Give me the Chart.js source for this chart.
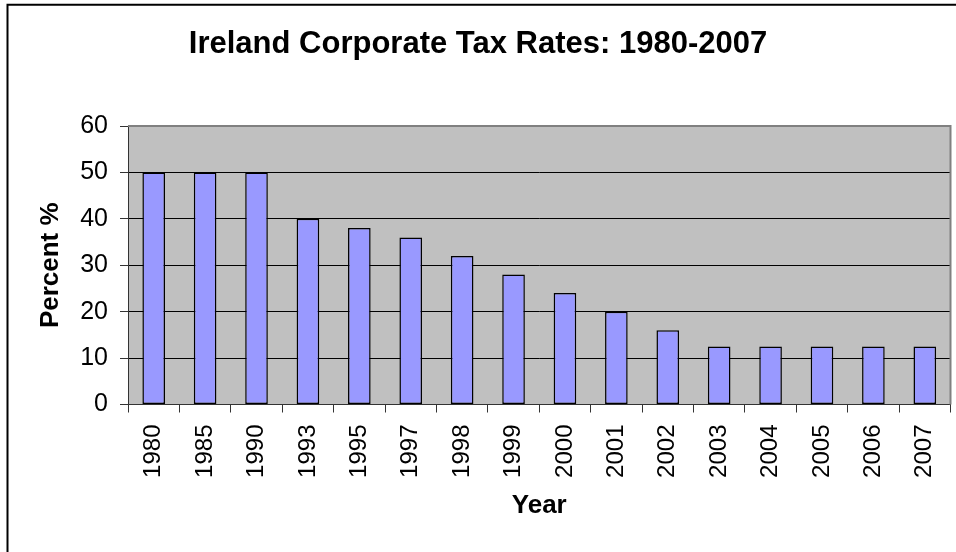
<!DOCTYPE html>
<html>
<head>
<meta charset="utf-8">
<title>Ireland Corporate Tax Rates: 1980-2007</title>
<script src="https://cdn.jsdelivr.net/npm/chart.js@4/dist/chart.umd.min.js"></script>
<style>
  html, body { margin: 0; padding: 0; background: #ffffff; }
  #wrap { width: 956px; height: 552px; }
</style>
</head>
<body>
<div id="wrap"><canvas id="chart" width="956" height="552"></canvas></div>
<script>
// Headline corporate tax rate in Ireland, by year
const years = ['1980', '1985', '1990', '1993', '1995', '1997', '1998', '1999',
               '2000', '2001', '2002', '2003', '2004', '2005', '2006', '2007'];
const taxRates = [50, 50, 50, 40, 38, 36, 32, 28, 24, 20, 16, 12.5, 12.5, 12.5, 12.5, 12.5];
const yTicks = [0, 10, 20, 30, 40, 50, 60];

const FONT = "'Liberation Sans', Arial, Helvetica, sans-serif";

// Grey plot background, grey plot frame and the outer chart frame
const plotFrame = {
  id: 'plotFrame',
  beforeDraw(chart) {
    const { ctx, chartArea: a } = chart;
    ctx.save();
    ctx.fillStyle = '#ffffff';
    ctx.fillRect(0, 0, chart.width, chart.height);
    ctx.fillStyle = '#c0c0c0';
    ctx.fillRect(a.left, a.top, a.right - a.left, a.bottom - a.top);
    ctx.restore();
  },
  afterDraw(chart) {
    const { ctx, chartArea: a } = chart;
    ctx.save();
    ctx.strokeStyle = '#808080';
    ctx.lineWidth = 2;
    ctx.beginPath();
    ctx.moveTo(a.left, a.top);
    ctx.lineTo(a.right, a.top);
    ctx.lineTo(a.right, a.bottom);
    ctx.stroke();
    ctx.strokeStyle = '#000000';
    ctx.lineWidth = 2;
    ctx.strokeRect(7.5, 4.75, chart.width + 20, chart.height + 20);
    ctx.restore();
  }
};

new Chart(document.getElementById('chart'), {
  type: 'bar',
  data: {
    labels: years,
    datasets: [{
      label: 'Percent %',
      data: taxRates,
      backgroundColor: '#9999ff',
      borderColor: '#000000',
      borderWidth: 1.5,
      borderSkipped: false,
      barPercentage: 0.44,
      categoryPercentage: 1.0
    }]
  },
  options: {
    responsive: false,
    animation: false,
    devicePixelRatio: 1,
    layout: { padding: 0 },
    plugins: {
      legend: { display: false },
      tooltip: { enabled: false },
      title: {
        display: true,
        text: 'Ireland Corporate Tax Rates: 1980-2007',
        color: '#000000',
        font: { family: FONT, size: 31, weight: 'bold', lineHeight: 1.2 },
        padding: { top: 25.5, bottom: 63.3 }
      }
    },
    scales: {
      x: {
        offset: true,
        grid: {
          offset: true,
          drawOnChartArea: false,
          drawTicks: true,
          tickLength: 8,
          color: '#333333',
          lineWidth: 1
        },
        border: { display: true, color: '#333333', width: 1 },
        ticks: {
          color: '#000000',
          font: { family: FONT, size: 24 },
          minRotation: 90,
          maxRotation: 90,
          padding: 12,
          autoSkip: false
        },
        title: {
          display: true,
          text: 'Year',
          color: '#000000',
          font: { family: FONT, size: 26, weight: 'bold', lineHeight: 1.2 },
          padding: { top: 0, bottom: 31 }
        },
        afterFit(scale) {
          scale.height = 147.5;
          scale.paddingLeft = 0;
          scale.paddingRight = 5.5;
        }
      },
      y: {
        min: 0,
        max: 60,
        afterBuildTicks(scale) { scale.ticks = yTicks.map(v => ({ value: v })); },
        grid: {
          color: '#000000',
          lineWidth: 1,
          tickLength: 8,
          tickColor: '#333333',
          drawTicks: true
        },
        border: { display: true, color: '#333333', width: 1 },
        ticks: {
          color: '#000000',
          font: { family: FONT, size: 25 },
          padding: 12
        },
        title: {
          display: true,
          text: 'Percent %',
          color: '#000000',
          font: { family: FONT, size: 26, weight: 'bold', lineHeight: 1.2 },
          padding: { top: 35, bottom: 0 }
        },
        afterFit(scale) {
          scale.width = 128;
          scale.paddingTop = 0;
          scale.paddingBottom = 0;
        }
      }
    }
  },
  plugins: [plotFrame]
});
</script>
</body>
</html>
